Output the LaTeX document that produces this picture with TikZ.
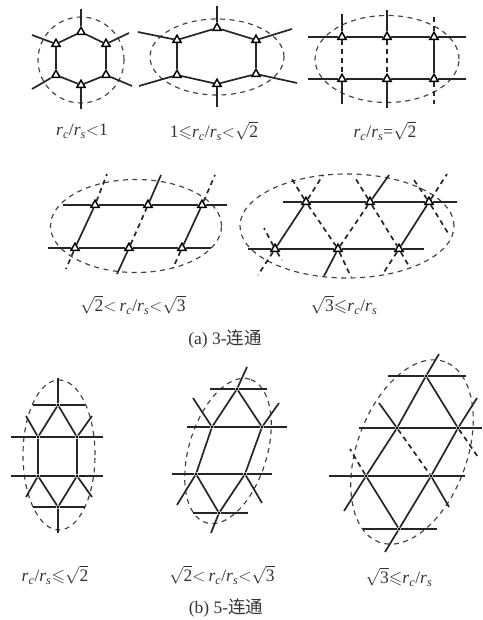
\documentclass[tikz,border=0pt]{standalone}
\usepackage{amssymb}
\usepackage{fontspec}
\setmainfont{Liberation Serif}
\newfontfamily\cjk{Noto Sans CJK SC}
\usetikzlibrary{shapes.geometric}
\newcommand{\rcs}{\textit{r}\textsubscript{\textit{c}}/\textit{r}\textsubscript{\textit{s}}}
\newcommand{\rtwo}{$\sqrt{\mbox{2}}$}
\newcommand{\rthree}{$\sqrt{\mbox{3}}$}
\begin{document}
\begin{tikzpicture}[x=1pt, y=-1pt, font=\fontsize{17.5}{20}\selectfont,
      wire/.style={line width=1.7pt, black!85},
      dashwire/.style={wire, dash pattern=on 5pt off 4pt},
      ring/.style={draw, ellipse, black!75, line width=1.15pt, dash pattern=on 5pt off 4.5pt, inner sep=0pt},
      tri/.style={draw, regular polygon, regular polygon sides=3, fill=white, line width=1.5pt, inner sep=0pt, minimum size=9.5pt},
      joint/.style={circle, fill=black, inner sep=1.2pt},
      lab/.style={text=black!80, inner sep=0pt}]
    \useasboundingbox (0,0) rectangle (482,620);
    % (a) 3-connected
    \node[ring, minimum width=86pt, minimum height=86pt] (ring1) at (81,60) {};
    \node[ring, minimum width=134pt, minimum height=76pt] (ring2) at (217,57) {};
    \node[ring, minimum width=144pt, minimum height=87pt] (ring3) at (387,59) {};
    \node[ring, minimum width=171pt, minimum height=93pt] (ring4) at (136,226) {};
    \node[ring, minimum width=214pt, minimum height=104pt] (ring5) at (347,226) {};
    \foreach \n/\x/\y in {a1/81/32, a2/106/44, a3/106/75, a4/81/85, a5/56/75, a6/56/44,
        b1/217/28, b2/256/40, b3/256/74, b4/217/84, b5/177/75, b6/177/40,
        c1/342/37, c2/387/37, c3/434/37, c4/342/79, c5/387/79, c6/434/79,
        d1/95/205, d2/148/205, d3/202/205, d4/75/248, d5/129/248, d6/182/248,
        e1/306/202, e2/370/202, e3/429/202, e4/275/249, e5/338/249, e6/399/249}
      \node[tri] (\n) at (\x,\y) {};
    \foreach \n/\x/\y in {ax1/81/9, ax2/129/33, ax3/132/86, ax4/81/109, ax5/32/89, ax6/32/35,
        bx1/217/6, bx2/292/29, bx3/297/83, bx4/217/107, bx5/139/86, bx6/138/32,
        cx1/308/37, cx2/466/37, cx3/308/79, cx4/466/79, cx5/342/14, cx6/387/10, cx7/434/13, cx8/342/104, cx9/387/108, cx10/434/104,
        dx1/63/205, dx2/227/205, dx3/48/248, dx4/211/248, dx5/107/174, dx6/161/175, dx7/215/175, dx8/66/269, dx9/117/274, dx10/173/268,
        ex1/283/202, ex2/457/202, ex3/248/249, ex4/424/249, ex5/323/175, ex6/389/175, ex7/447/174, ex8/258/275, ex9/324/276, ex10/384/272,
        ex11/290/176, ex12/354/176, ex13/414/180, ex14/448/233, ex15/264/228, ex16/282/260, ex17/351/277, ex18/410/268}
      \coordinate (\n) at (\x,\y);
    \foreach \p/\q in {a1/a2, a2/a3, a3/a4, a4/a5, a5/a6, a6/a1, a1/ax1, a2/ax2, a3/ax3, a4/ax4, a5/ax5, a6/ax6,
        b1/b2, b2/b3, b3/b4, b4/b5, b5/b6, b6/b1, b1/bx1, b2/bx2, b3/bx3, b4/bx4, b5/bx5, b6/bx6,
        cx1/c1, c1/c2, c2/c3, c3/cx2, cx3/c4, c4/c5, c5/c6, c6/cx4, c1/cx5, c2/cx6, c3/c6, c4/cx8, c5/cx9,
        dx1/d1, d1/d2, d2/d3, d3/dx2, dx3/d4, d4/d5, d5/d6, d6/dx4, d4/d1, d6/d3, d2/dx6, d5/dx9,
        ex1/e1, e1/e2, e2/e3, e3/ex2, ex3/e4, e4/e5, e5/e6, e6/ex4, e4/e1, e6/e3, e2/ex6, e5/ex9}
      \draw[wire] (\p) -- (\q);
    \foreach \p/\q in {c1/c4, c2/c5, c3/cx7, c6/cx10,
        d1/dx5, d4/dx8, d5/d2, d3/dx7, d6/dx10,
        e1/ex5, e4/ex8, e5/e2, e3/ex7, e6/ex10, e1/ex11, e1/e5, e5/ex17, e2/ex12, e2/e6, e6/ex18, e3/ex13, e3/ex14, e4/ex15, e4/ex16}
      \draw[dashwire] (\p) -- (\q);
    \node[lab] (lab1) at (82,131) {\rcs$<$1};
    \node[lab] (lab2) at (214,131) {1$\leqslant$\rcs$<$\rtwo};
    \node[lab] (lab3) at (385,131) {\rcs=\rtwo};
    \node[lab] (lab4) at (133,305) {\rtwo$<$\,\rcs$<$\rthree};
    \node[lab] (lab5) at (344,305) {\rthree$\leqslant$\rcs};
    \node[lab] (capa) at (225,339) {(a) 3-{\cjk 连通}};
    % (b) 5-connected
    \node[ring, minimum width=72pt, minimum height=150pt] (ring6) at (59,455) {};
    \node[ring, minimum width=150pt, minimum height=78pt, rotate=73] (ring7) at (228,451) {};
    \node[ring, minimum width=192pt, minimum height=110pt, rotate=70] (ring8) at (412,452) {};
    \foreach \n/\x/\y in {f1/58/405, f2/38/437, f3/77/437, f4/38/476, f5/77/476, f6/58/507,
        g1/237/389, g2/212/427, g3/262/427, g4/196/474, g5/245/474, g6/219/513,
        h1/426/376, h2/397/428, h3/458/428, h4/366/476, h5/431/476, h6/399/529}
      \node[joint] (\n) at (\x,\y) {};
    \foreach \n/\x/\y in {fx1/33/405, fx2/85/405, fx3/11/437, fx4/103/437, fx5/11/476, fx6/103/476, fx7/33/507, fx8/85/507, fx9/58/378, fx10/58/533, fx11/26/416, fx12/92/416, fx13/26/497, fx14/92/497,
        gx1/210/389, gx2/267/389, gx3/187/427, gx4/287/427, gx5/172/474, gx6/272/474, gx7/193/513, gx8/248/513, gx9/247/367, gx10/211/533, gx11/193/398, gx12/279/403, gx13/177/505, gx14/262/503,
        hx1/388/376, hx2/466/376, hx3/359/428, hx4/482/428, hx5/329/476, hx6/465/476, hx7/363/529, hx8/437/529, hx9/439/354, hx10/385/552, hx11/379/403, hx12/477/398, hx13/344/511, hx14/449/507, hx15/478/457, hx16/350/449}
      \coordinate (\n) at (\x,\y);
    \foreach \k in {f,g,h}
      \foreach \p/\q in {x1/1, 1/x2, x3/2, 2/3, 3/x4, x5/4, 4/5, 5/x6, x7/6, 6/x8, 1/x9, 6/x10, 1/2, 1/3, 2/4, 3/5, 4/6, 5/6, 2/x11, 3/x12, 4/x13, 5/x14}
        \draw[wire] (\k\p) -- (\k\q);
    \foreach \p/\q in {h2/h5, h3/hx15, h4/hx16}
      \draw[dashwire] (\p) -- (\q);
    \node[lab] (lab6) at (55,575) {\rcs$\leqslant$\rtwo};
    \node[lab] (lab7) at (222,575) {\rtwo$<$\,\rcs$<$\rthree};
    \node[lab] (lab8) at (399,577) {\rthree$\leqslant$\rcs};
    \node[lab] (capb) at (226,608) {(b) 5-{\cjk 连通}};
  \end{tikzpicture}
\end{document}
